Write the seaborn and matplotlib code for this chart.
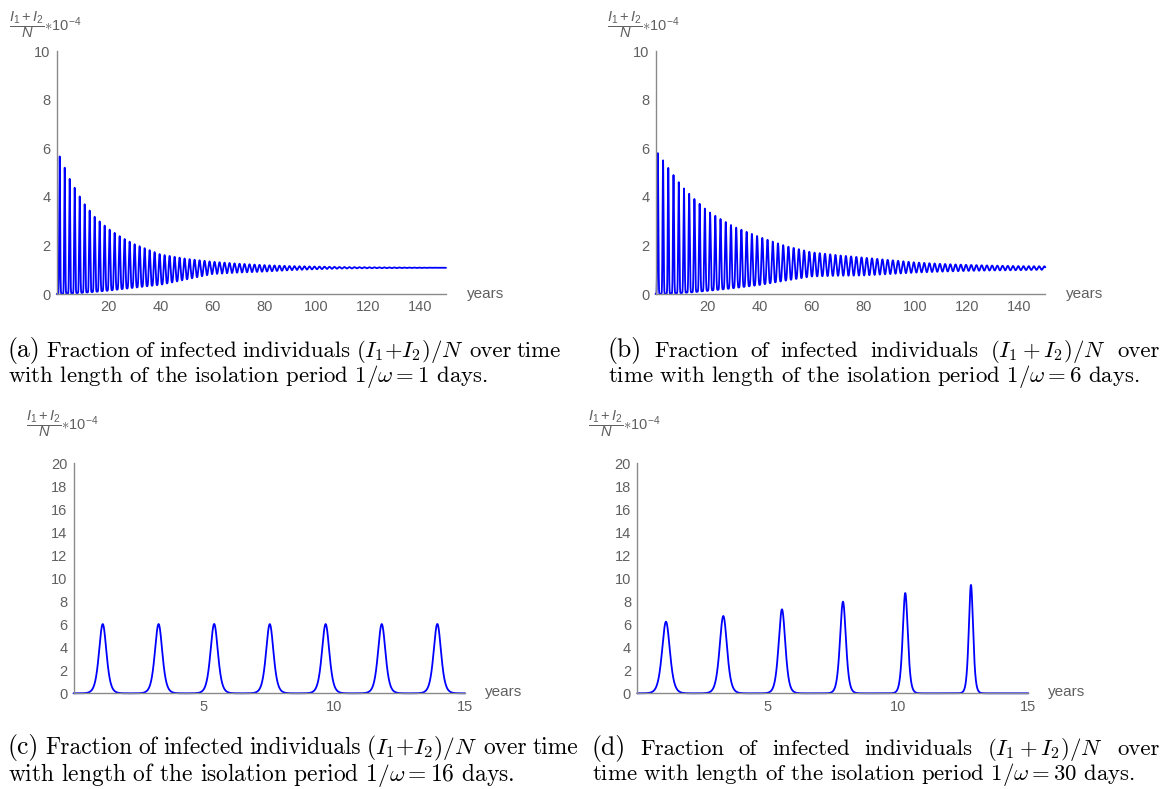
import numpy as np
import pandas as pd
import matplotlib
matplotlib.use("Agg")
import matplotlib.pyplot as plt
import seaborn as sns

# ---------------- data ----------------
# panel (a): 1/omega = 1 day, damped oscillation
a_first_peak = 1.15
a_period = 1.925
a_env_years = [1, 5, 10, 15, 20, 25, 30, 40, 50, 60, 70, 80, 90, 100, 110, 120, 135, 150]
a_peak = [5.70, 4.74, 3.80, 3.13, 2.68, 2.33, 2.05, 1.63, 1.45, 1.33, 1.25, 1.19, 1.15, 1.13, 1.11, 1.10, 1.09, 1.08]
a_trough = [0.00, 0.02, 0.05, 0.09, 0.14, 0.20, 0.26, 0.38, 0.60, 0.82, 0.88, 0.92, 0.98, 1.02, 1.05, 1.06, 1.07, 1.08]
a_sharp = [6.0, 5.0, 4.0, 3.2, 2.6, 2.2, 1.9, 1.5, 1.2, 1.0, 1.0, 1.0, 1.0, 1.0, 1.0, 1.0, 1.0, 1.0]

# panel (b): 1/omega = 6 days
b_first_peak = 0.9
b_period = 2.01
b_env_years = [1, 5, 10, 15, 20, 25, 30, 40, 50, 60, 70, 80, 90, 100, 110, 120, 130, 140, 150]
b_peak = [5.80, 5.18, 4.45, 3.91, 3.42, 3.09, 2.78, 2.35, 1.98, 1.72, 1.60, 1.50, 1.40, 1.30, 1.24, 1.20, 1.17, 1.15, 1.14]
b_trough = [0.00, 0.01, 0.04, 0.08, 0.13, 0.18, 0.24, 0.37, 0.55, 0.72, 0.75, 0.76, 0.82, 0.88, 0.92, 0.95, 0.97, 0.98, 1.00]
b_sharp = [6.0, 5.5, 4.5, 3.8, 3.2, 2.7, 2.3, 1.8, 1.4, 1.2, 1.1, 1.0, 1.0, 1.0, 1.0, 1.0, 1.0, 1.0, 1.0]

# panel (c): 1/omega = 16 days, periodic outbreaks
c_peak_years = [1.12, 3.26, 5.39, 7.52, 9.66, 11.81, 13.94]
c_peak_height = [6.02, 6.02, 6.03, 6.02, 6.02, 6.02, 6.03]
c_peak_width = [0.19, 0.19, 0.19, 0.19, 0.19, 0.19, 0.19]

# panel (d): 1/omega = 30 days, growing outbreaks
d_peak_years = [1.10, 3.30, 5.55, 7.89, 10.28, 12.80]
d_peak_height = [6.23, 6.72, 7.30, 7.97, 8.72, 9.42]
d_peak_width = [0.20, 0.19, 0.17, 0.15, 0.13, 0.11]

a_yticks = [0, 2, 4, 6, 8, 10]
a_xticks = [20, 40, 60, 80, 100, 120, 140]
c_yticks = list(range(0, 21, 2))
c_xticks = [5, 10, 15]

captions = {
    "a": (["(a)", "Fraction", "of", "infected", "individuals", r"$(I_1{+}I_2)/N$", "over", "time"],
          r"with length of the isolation period $1/\omega = 1$ days."),
    "b": (["(b)", "Fraction", "of", "infected", "individuals", r"$(I_1 + I_2)/N$", "over"],
          r"time with length of the isolation period $1/\omega = 6$ days."),
    "c": (["(c)", "Fraction", "of", "infected", "individuals", r"$(I_1{+}I_2)/N$", "over", "time"],
          r"with length of the isolation period $1/\omega = 16$ days."),
    "d": (["(d)", "Fraction", "of", "infected", "individuals", r"$(I_1 + I_2)/N$", "over"],
          r"time with length of the isolation period $1/\omega = 30$ days."),
}


def damped_curve(t_end, first, period, env_t, peak, trough, sharp, n=40000):
    t = np.linspace(0, t_end, n)
    pk = np.interp(t, env_t, peak)
    tr = np.interp(t, env_t, trough)
    p = np.interp(t, env_t, sharp)
    phase = 2 * np.pi * (t - first) / period
    s = ((1 + np.cos(phase)) / 2) ** p
    return pd.DataFrame({"years": t, "frac": tr + (pk - tr) * s})


def pulse_curve(t_end, times, heights, widths, n=8000):
    t = np.linspace(0, t_end, n)
    y = np.zeros_like(t)
    for tk, h, w in zip(times, heights, widths):
        y += h / np.cosh((t - tk) / w) ** 2
    return pd.DataFrame({"years": t, "frac": y})


# ---------------- figure ----------------
sns.set_theme(style="white")
plt.rcParams["font.family"] = ["Liberation Sans", "DejaVu Sans"]
plt.rcParams["mathtext.rm"] = "Liberation Sans"
plt.rcParams["mathtext.it"] = "Liberation Sans:italic"
plt.rcParams["mathtext.bf"] = "Liberation Sans:bold"

W, H = 1171, 789
fig = plt.figure(figsize=(W / 100, H / 100), dpi=100)


def rect(x0, y0, x1, y1):
    return [x0 / W, 1 - y1 / H, (x1 - x0) / W, (y1 - y0) / H]


def P(x, y):
    return x / W, 1 - y / H


AX_COL = "#8a8a8a"
LAB_COL = "#606060"


def style_axes(ax, xlim, ylim, xticks, yticks):
    ax.set_xlim(*xlim)
    ax.set_ylim(*ylim)
    ax.set_xticks(xticks)
    ax.set_yticks(yticks)
    for s in ["top", "right"]:
        ax.spines[s].set_visible(False)
    for s in ["left", "bottom"]:
        ax.spines[s].set_color(AX_COL)
        ax.spines[s].set_linewidth(1.0)
    ax.tick_params(direction="in", length=3.5, width=0.8, color=AX_COL,
                   labelcolor=LAB_COL, labelsize=10.5, pad=4.5)
    ax.set_xlabel("")
    ax.set_ylabel("")
    ax.set_facecolor("none")


panels = {
    "a": rect(56.7, 51.2, 446, 294),
    "b": rect(655.5, 51.2, 1045.3, 294),
    "c": rect(73.5, 463.3, 465, 693.3),
    "d": rect(637.3, 463.3, 1028.3, 693.3),
}

data = {
    "a": damped_curve(150, a_first_peak, a_period, a_env_years, a_peak, a_trough, a_sharp),
    "b": damped_curve(150, b_first_peak, b_period, b_env_years, b_peak, b_trough, b_sharp),
    "c": pulse_curve(15, c_peak_years, c_peak_height, c_peak_width),
    "d": pulse_curve(15, d_peak_years, d_peak_height, d_peak_width),
}

axes = {}
for key in "abcd":
    ax = fig.add_axes(panels[key])
    axes[key] = ax
    sns.lineplot(data=data[key], x="years", y="frac", ax=ax, color="#0000ff",
                 linewidth=1.3, estimator=None, sort=False, clip_on=False)
    if key in "ab":
        style_axes(ax, (0, 150), (0, 10), a_xticks, a_yticks)
    else:
        style_axes(ax, (0, 15), (0, 20), c_xticks, c_yticks)

# "years" labels
for key, (x, y) in {"a": (467, 294), "b": (1066, 294), "c": (485, 692), "d": (1048, 692)}.items():
    fig.text(*P(x, y), "years", color=LAB_COL, fontsize=11, ha="left", va="center")

# y-axis labels
ylab = r"$\dfrac{I_1 + I_2}{N}{\ast}10^{-4}$"
for key, (x, y) in {"a": (9, 25), "b": (607, 25), "c": (26, 424), "d": (588, 424)}.items():
    fig.text(*P(x, y), ylab, color=LAB_COL, fontsize=10.5, ha="left", va="center",
             math_fontfamily="custom")

# captions
renderer = fig.canvas.get_renderer()
CAP = dict(family="cmr10", math_fontfamily="cm", color="black")


def place_line(words, sizes, x0, x1, ybase, justify):
    objs = []
    widths = []
    for w, s in zip(words, sizes):
        t = fig.text(0, 0, w, fontsize=s, va="baseline", ha="left", **CAP)
        objs.append(t)
        widths.append(t.get_window_extent(renderer).width)
    natural = sizes[-1] * 100 / 72 * 0.333
    if justify and len(words) > 1:
        gap = (x1 - x0 - sum(widths)) / (len(words) - 1)
        gap = max(gap, natural * 0.6)
    else:
        gap = natural
    x = x0
    for t, wd in zip(objs, widths):
        t.set_position(P(x, ybase))
        x += wd + gap


BIG = 18.5
lines = {
    "a": (8, 561, 357, 382, 16.4),
    "b": (608, 1160, 357, 382, 16.4),
    "c": (8, 578, 754, 781, 16.9),
    "d": (591, 1160, 755, 780, 16.4),
}
for key, (x0, x1, yb1, yb2, cs) in lines.items():
    words, second = captions[key]
    sizes = [BIG] + [cs] * (len(words) - 1)
    place_line(words, sizes, x0, x1, yb1, True)
    place_line([second], [cs], x0 + (1 if key == "d" else 0), None, yb2, False)

fig.savefig("out.png", dpi=100)
